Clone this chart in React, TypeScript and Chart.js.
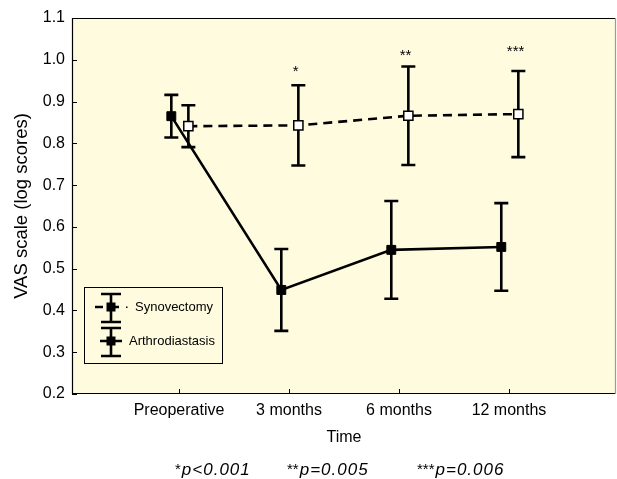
import React, { useEffect, useRef } from "react";
import { Chart, registerables } from "chart.js";

Chart.register(...registerables);

// ---- data ----
const categories = ["Preoperative", "3 months", "6 months", "12 months"];
const synovMean = [0.841, 0.843, 0.866, 0.87];
const synovErr = [0.05, 0.096, 0.118, 0.103];
const arthroMean = [0.865, 0.449, 0.545, 0.552];
const arthroErr = [0.051, 0.098, 0.117, 0.105];
const starLabels = ["", "*", "**", "***"];
const starValues = [null, 0.96, 1.0, 1.01];
const yTickValues = [0.2, 0.3, 0.4, 0.5, 0.6, 0.7, 0.8, 0.9, 1.0, 1.1];
const yTickLabels = ["0.2", "0.3", "0.4", "0.5", "0.6", "0.7", "0.8", "0.9", "1.0", "1.1"];
const footStars = ["*", "**", "***"];
const footTexts = ["p<0.001", "p=0.005", "p=0.006"];
const seriesNames = ["Synovectomy", "Arthrodiastasis"];

const SYN_OFF = 0.085;
const ART_OFF = -0.07;
const FONT = "'Liberation Sans', Arial, Helvetica, sans-serif";
const PLOT_BG = "#fffbdf";

export default function App() {
  const ref = useRef<HTMLCanvasElement>(null);

  useEffect(() => {
    const canvas = ref.current!;
    const errs = [synovErr, arthroErr];
    const offs = [SYN_OFF, ART_OFF];
    const means = [synovMean, arthroMean];

    const bgPlugin = {
      id: "bg",
      afterLayout(chart: any) {
        // extend the plot area to the right edge (1px margin)
        const a = chart.chartArea;
        const target = chart.width - 1;
        if (a.right !== target) {
          a.right = target;
          a.width = a.right - a.left;
          const x = chart.scales.x;
          x.right = target;
          x.width = x.right - x.left;
          x.configure();
        }
      },
      beforeDraw(chart: any) {
        const { ctx, chartArea: a } = chart;
        ctx.save();
        ctx.fillStyle = "#fff";
        ctx.fillRect(0, 0, chart.width, chart.height);
        ctx.fillStyle = PLOT_BG;
        ctx.fillRect(a.left, a.top, a.right - a.left, a.bottom - a.top);
        ctx.restore();
      },
      beforeDatasetsDraw(chart: any) {
        const { ctx, chartArea: a, scales } = chart;
        ctx.save();
        ctx.strokeStyle = "#000";
        ctx.lineWidth = 1.2;
        ctx.beginPath();
        ctx.moveTo(a.right, a.top + 0.5);
        ctx.lineTo(a.left + 0.5, a.top + 0.5);
        ctx.lineTo(a.left + 0.5, a.bottom - 0.5);
        ctx.lineTo(a.right, a.bottom - 0.5);
        ctx.stroke();
        ctx.strokeStyle = "#9a9a9a";
        ctx.beginPath();
        ctx.moveTo(a.right - 0.5, a.top);
        ctx.lineTo(a.right - 0.5, a.bottom);
        ctx.stroke();
        ctx.strokeStyle = "#000";
        ctx.lineWidth = 1;
        ctx.beginPath();
        yTickValues.forEach((v) => {
          const y = Math.round(scales.y.getPixelForValue(v)) + 0.5;
          ctx.moveTo(a.left, y);
          ctx.lineTo(a.left + 5, y);
        });
        categories.forEach((_, i) => {
          const x = Math.round(scales.x.getPixelForValue(i)) + 0.5;
          ctx.moveTo(x, a.bottom);
          ctx.lineTo(x, a.bottom - 5);
        });
        ctx.stroke();
        ctx.lineWidth = 2.6;
        ctx.strokeStyle = "#000";
        means.forEach((m, d) => {
          m.forEach((v, i) => {
            const x = scales.x.getPixelForValue(i + offs[d]);
            const yt = scales.y.getPixelForValue(v + errs[d][i]);
            const yb = scales.y.getPixelForValue(v - errs[d][i]);
            ctx.beginPath();
            ctx.moveTo(x, yt);
            ctx.lineTo(x, yb);
            ctx.moveTo(x - 7, yt);
            ctx.lineTo(x + 7, yt);
            ctx.moveTo(x - 7, yb);
            ctx.lineTo(x + 7, yb);
            ctx.stroke();
          });
        });
        ctx.restore();
      },
      afterDatasetsDraw(chart: any) {
        const { ctx, chartArea: a, scales } = chart;
        ctx.save();
        ctx.fillStyle = "#000";
        ctx.font = `15px ${FONT}`;
        ctx.textAlign = "center";
        ctx.textBaseline = "alphabetic";
        starLabels.forEach((s, i) => {
          const v = starValues[i];
          if (!s || v == null) return;
          ctx.fillText(s, scales.x.getPixelForValue(i + 0.06), scales.y.getPixelForValue(v));
        });

        // legend
        const lx = a.left + 12;
        const ly = a.bottom - 107;
        const lw = 138;
        const lh = 76;
        ctx.fillStyle = PLOT_BG;
        ctx.fillRect(lx, ly, lw, lh);
        ctx.strokeStyle = "#000";
        ctx.lineWidth = 1;
        ctx.strokeRect(lx + 0.5, ly + 0.5, lw, lh);
        const sx = lx + 27;
        const rows = [ly + 20, ly + 54];
        ctx.lineWidth = 2.6;
        rows.forEach((cy, r) => {
          ctx.beginPath();
          ctx.moveTo(sx, cy - 13);
          ctx.lineTo(sx, cy + 15);
          ctx.moveTo(sx - 10, cy - 13);
          ctx.lineTo(sx + 10, cy - 13);
          ctx.moveTo(sx - 10, cy + 15);
          ctx.lineTo(sx + 10, cy + 15);
          if (r === 0) {
            ctx.moveTo(sx - 16, cy);
            ctx.lineTo(sx - 8, cy);
            ctx.moveTo(sx + 2, cy);
            ctx.lineTo(sx + 8, cy);
          } else {
            ctx.moveTo(sx - 11, cy);
            ctx.lineTo(sx + 11, cy);
          }
          ctx.stroke();
          ctx.fillStyle = "#000";
          ctx.fillRect(sx - 4.5, cy - 4.5, 9, 9);
          if (r === 0) ctx.fillRect(sx + 15, cy - 0.5, 1.5, 1.5);
        });
        ctx.font = `13px ${FONT}`;
        ctx.textAlign = "left";
        ctx.textBaseline = "middle";
        ctx.fillText(seriesNames[0], lx + 51, rows[0]);
        ctx.fillText(seriesNames[1], lx + 45, rows[1]);

        // footnote
        const starts = [175, 287, 417];
        const base = chart.height - 4;
        footTexts.forEach((t, i) => {
          ctx.font = `15px ${FONT}`;
          ctx.textBaseline = "alphabetic";
          (ctx as any).letterSpacing = "0px";
          const sw = ctx.measureText(footStars[i]).width;
          ctx.fillText(footStars[i], starts[i], base - 1);
          ctx.font = `italic 17px ${FONT}`;
          (ctx as any).letterSpacing = "1px";
          ctx.fillText(t, starts[i] + sw + 1, base);
        });
        (ctx as any).letterSpacing = "0px";
        ctx.restore();
      },
    };

    const chart = new Chart(canvas, {
      type: "line",
      data: {
        datasets: [
          {
            label: seriesNames[0],
            data: synovMean.map((v, i) => ({ x: i + SYN_OFF, y: v })),
            borderColor: "#000",
            borderWidth: 2.6,
            borderDash: [9, 6],
            pointStyle: "rect",
            pointRadius: 6.5,
            pointBackgroundColor: "#fff",
            pointBorderColor: "#000",
            pointBorderWidth: 1.5,
            fill: false,
            tension: 0,
          },
          {
            label: seriesNames[1],
            data: arthroMean.map((v, i) => ({ x: i + ART_OFF, y: v })),
            borderColor: "#000",
            borderWidth: 2.6,
            pointStyle: "rect",
            pointRadius: 6.3,
            pointBackgroundColor: "#000",
            pointBorderColor: "#000",
            pointBorderWidth: 1,
            fill: false,
            tension: 0,
          },
        ],
      },
      options: {
        responsive: false,
        animation: false,
        layout: { padding: { top: 18, right: 1, left: 0, bottom: 0 } },
        plugins: { legend: { display: false }, tooltip: { enabled: false } },
        scales: {
          x: {
            type: "linear",
            min: -0.973,
            max: 3.973,
            afterBuildTicks: (s: any) => {
              s.ticks = categories.map((_, i) => ({ value: i }));
            },
            afterFit: (s: any) => {
              s.height = 85;
              s.paddingLeft = 0;
              s.paddingRight = 0;
            },
            grid: { display: false, drawTicks: false },
            border: { display: false },
            ticks: {
              padding: 7,
              color: "#000",
              autoSkip: false,
              maxRotation: 0,
              font: { family: FONT, size: 16 },
              callback: (v: any) => categories[Math.round(Number(v))] ?? "",
            },
            title: {
              display: true,
              text: "Time",
              color: "#000",
              font: { family: FONT, size: 16 },
              padding: { top: 0, bottom: 31.4 },
            },
          },
          y: {
            min: 0.2,
            max: 1.1,
            afterBuildTicks: (s: any) => {
              s.ticks = yTickValues.map((v) => ({ value: v }));
            },
            afterFit: (s: any) => {
              s.width = 72;
              s.paddingTop = 0;
              s.paddingBottom = 0;
            },
            grid: { display: false, drawTicks: false },
            border: { display: false },
            ticks: {
              padding: 7,
              color: "#000",
              font: { family: FONT, size: 16 },
              callback: (v: any) => {
                const i = yTickValues.findIndex((t) => Math.abs(t - Number(v)) < 1e-6);
                return i >= 0 ? yTickLabels[i] : "";
              },
            },
            title: {
              display: true,
              text: "VAS scale (log scores)",
              color: "#000",
              font: { family: FONT, size: 18.5 },
              padding: { top: 10.9, bottom: 0 },
            },
          },
        },
      },
      plugins: [bgPlugin],
    });
    return () => chart.destroy();
  }, []);

  return (
    <div style={{ position: "absolute", left: 0, top: 0, width: 617, height: 479 }}>
      <canvas ref={ref} width={617} height={479} style={{ display: "block" }} />
    </div>
  );
}
